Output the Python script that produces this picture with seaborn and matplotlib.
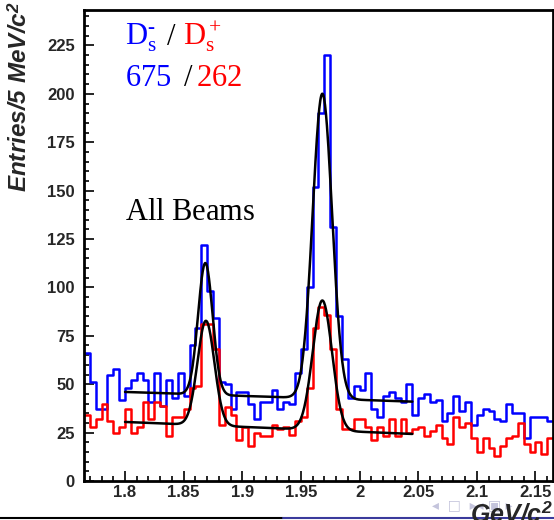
import numpy as np
import pandas as pd
import matplotlib
matplotlib.use("Agg")
import matplotlib.pyplot as plt
from matplotlib.lines import Line2D
from matplotlib.ticker import MultipleLocator, FuncFormatter
import seaborn as sns

# ── Data: 80 bins of 5 MeV from 1.765 to 2.165 GeV ──────────────────────────
X_LO, X_HI, N_BINS = 1.765, 2.165, 80

ds_minus = [66, 51, 37, 37, 55, 58, 42, 48, 52, 56,
            52, 41, 56, 39, 52, 43, 56, 44, 70, 79,
            122, 98, 84, 51, 50, 37, 46, 46, 40, 32,
            41, 41, 47, 37, 41, 40, 56, 68, 100, 152,
            190, 220, 131, 85, 63, 43, 49, 47, 56, 37,
            33, 44, 46, 43, 41, 50, 34, 43, 45, 41,
            42, 31, 35, 44, 36, 41, 29, 34, 37, 36,
            32, 31, 40, 35, 35, 22, 33, 33, 33, 31]

ds_plus = [34, 28, 32, 40, 31, 25, 28, 37, 25, 28,
           41, 32, 41, 39, 23, 33, 33, 37, 48, 49,
           81, 81, 68, 29, 38, 34, 21, 28, 18, 25,
           23, 23, 29, 27, 28, 24, 31, 33, 48, 79,
           90, 86, 68, 37, 27, 27, 32, 32, 28, 21,
           28, 23, 32, 23, 32, 25, 27, 28, 23, 26,
           29, 22, 19, 33, 28, 30, 22, 15, 22, 17,
           13, 18, 22, 23, 30, 19, 15, 20, 14, 22]

# fit: linear background + two gaussians (entries per bin)
FIT_RANGE = (1.800, 2.045)
fit_minus = dict(b0=46.0, slope=-20.4, m1=1.8685, a1=68.0, s1=0.0062,
                 m2=1.9683, a2=157.5, s2=0.0083)
fit_plus = dict(b0=30.5, slope=-25.3, m1=1.8690, a1=54.0, s1=0.0072,
                m2=1.9683, a2=67.0, s2=0.0082)

bin_w = (X_HI - X_LO) / N_BINS
centers = X_LO + bin_w * (np.arange(N_BINS) + 0.5)
hist = pd.DataFrame({"mass": centers,
                     "minus": np.asarray(ds_minus, float),
                     "plus": np.asarray(ds_plus, float)})


def fit_curve(p, x):
    bg = p["b0"] + p["slope"] * (x - FIT_RANGE[0])
    g1 = p["a1"] * np.exp(-0.5 * ((x - p["m1"]) / p["s1"]) ** 2)
    g2 = p["a2"] * np.exp(-0.5 * ((x - p["m2"]) / p["s2"]) ** 2)
    return bg + g1 + g2


# ── Plot ────────────────────────────────────────────────────────────────────
sns.set_theme(style="ticks")
plt.rcParams["font.family"] = ["Liberation Sans", "DejaVu Sans"]
plt.rcParams["mathtext.fontset"] = "custom"
plt.rcParams["mathtext.rm"] = "Liberation Serif"
plt.rcParams["mathtext.it"] = "Liberation Serif:italic"
plt.rcParams["mathtext.bf"] = "Liberation Sans:italic:bold"

fig = plt.figure(figsize=(5.54, 5.2), dpi=100)
ax = fig.add_axes([84 / 554, 39 / 520, 469 / 554, 471 / 520])

for col, c in (("minus", "#0000ff"), ("plus", "#ff0000")):
    sns.histplot(data=hist, x="mass", weights=col, bins=N_BINS,
                 binrange=(X_LO, X_HI), element="step", fill=False,
                 color=c, linewidth=1.8, ax=ax)

xf = np.linspace(FIT_RANGE[0], FIT_RANGE[1], 600)
for p in (fit_minus, fit_plus):
    sns.lineplot(x=xf, y=fit_curve(p, xf), color="black", linewidth=1.8,
                 ax=ax, sort=False)

ax.set_xlim(X_LO, X_HI)
ax.set_ylim(0, 243.3)
ax.set_xlabel("")
ax.set_ylabel("")

ax.xaxis.set_major_locator(MultipleLocator(0.05))
ax.xaxis.set_minor_locator(MultipleLocator(0.01))
ax.yaxis.set_major_locator(MultipleLocator(25))
ax.yaxis.set_minor_locator(MultipleLocator(5))
ax.xaxis.set_major_formatter(FuncFormatter(lambda v, _: f"{v:g}"))
ax.yaxis.set_major_formatter(FuncFormatter(lambda v, _: f"{v:g}"))
ax.tick_params(which="both", direction="in", color="black", width=1.2,
               top=False, right=False)
ax.tick_params(which="major", length=7)
ax.tick_params(which="minor", length=3.5)
ax.tick_params(axis="y", pad=6.5, labelsize=12)
ax.tick_params(axis="x", pad=3, labelsize=12)
for lab in ax.get_xticklabels() + ax.get_yticklabels():
    lab.set_fontweight("bold")
for sp in ax.spines.values():
    sp.set_linewidth(2)
    sp.set_color("black")

# ── Labels inside the frame ─────────────────────────────────────────────────
def ax_pt(px, py):
    return (px - 84) / 469, (481 - py) / 471


TXT = dict(fontsize=22, ha="left", va="baseline", transform=ax.transAxes)
ax.text(*ax_pt(125, 45), r"$\mathrm{D}_\mathrm{s}^{\text{-}}$",
        color="#0000ff", **TXT)
ax.text(*ax_pt(166, 45), r"$\mathrm{/}$", color="black", **TXT)
ax.text(*ax_pt(183, 45), r"$\mathrm{D_s^+}$", color="#ff0000", **TXT)
ax.text(*ax_pt(125, 86), r"$\mathrm{675}$", color="#0000ff", **TXT)
ax.text(*ax_pt(183, 86), r"$\mathrm{/}$", color="black", **TXT)
ax.text(*ax_pt(196, 86), r"$\mathrm{262}$", color="#ff0000", **TXT)
ax.text(*ax_pt(125, 220), r"$\mathrm{All\ Beams}$", color="black", **TXT)

# ── Axis titles (ROOT style) and slide decorations ─────────────────────────
fig.text(20 / 554, 1 - 1 / 520, r"Entries/5 MeV/c$^{\mathbf{2}}$",
         rotation=90, ha="center", va="top", fontsize=17.5,
         fontweight="bold", style="italic")
fig.text(432 / 554, 1 - 509 / 520, "◂  □  ▸◂ ▣ ▸", color="#c4c4dc",
         fontsize=10, ha="left", va="baseline", family="DejaVu Sans")
fig.text(553 / 554, 1 - 521 / 520, r"GeV/c$^{\mathbf{2}}$", ha="right",
         va="baseline", fontsize=18, fontweight="bold", style="italic")

fig.add_artist(Line2D([0, 283 / 554], [2.5 / 520, 2.5 / 520], color="black",
                      lw=1.5, transform=fig.transFigure))
fig.add_artist(Line2D([283 / 554, 1], [2.5 / 520, 2.5 / 520],
                      color="#3a3a9c", lw=1.5, transform=fig.transFigure))

fig.savefig("out.png", dpi=100)
